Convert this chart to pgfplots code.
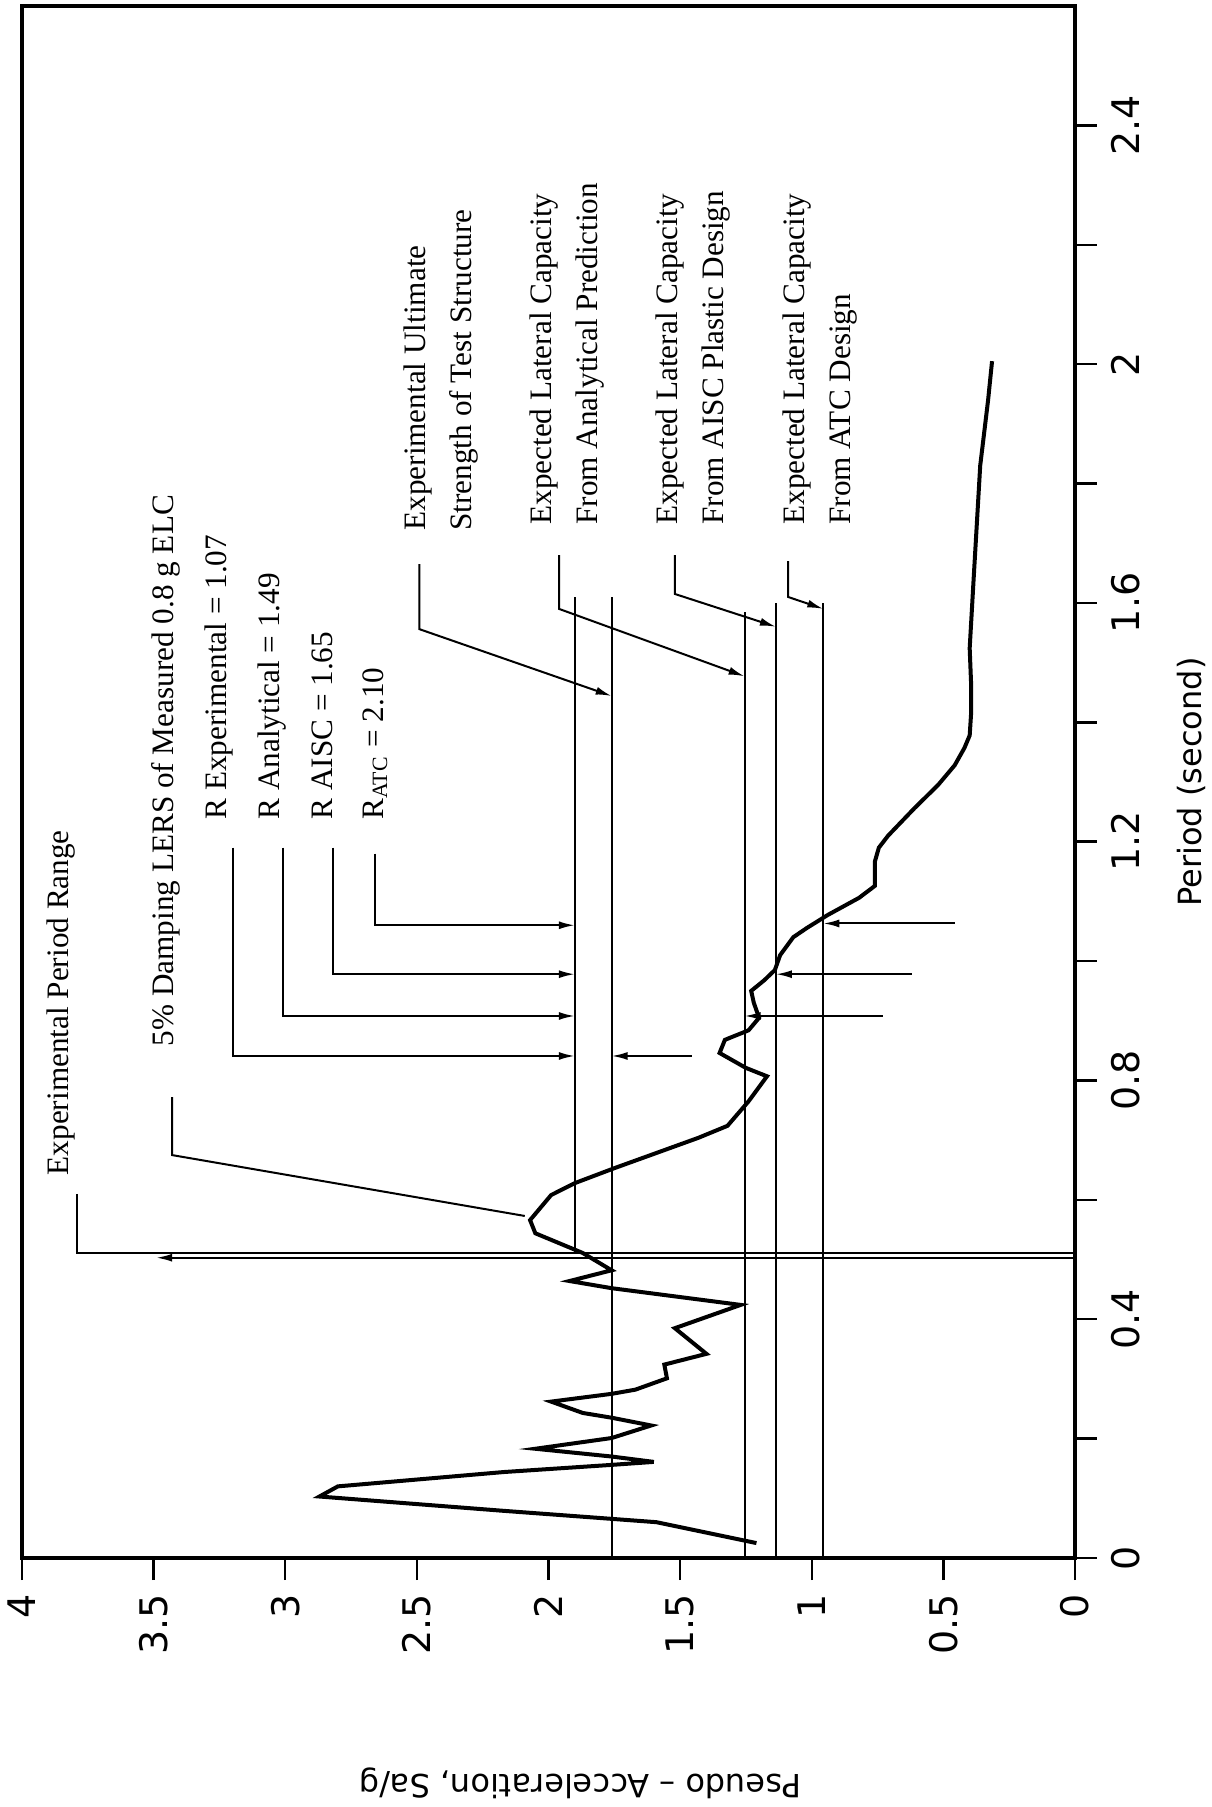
\documentclass[border=0pt]{standalone}
\usepackage{fontspec}
\setmainfont{Liberation Serif}
\newfontfamily\labelfont{DejaVu Sans}
\usepackage{pgfplots}
\pgfplotsset{compat=1.18}
\usetikzlibrary{arrows.meta}

\begin{document}
\begin{tikzpicture}[
  note/.style={rotate=90, anchor=west, inner sep=0pt, align=left,
    font=\fontsize{7.8}{11.5}\selectfont},
  thinline/.style={black, line width=0.5pt},
  lead/.style={black, line width=0.5pt, -{Latex[length=4pt,width=2pt]}},
]
\begin{axis}[
  scale only axis,
  width=263.25pt, height=388pt,
  xmin=0, xmax=4, ymin=0, ymax=2.6,
  x dir=reverse,
  axis line style={line width=0.9pt},
  tick align=outside,
  major tick length=5.5pt,
  tick style={black, line width=0.6pt},
  xtick pos=left,
  ytick pos=right,
  yticklabel pos=right,
  xtick={0,0.5,1,1.5,2,2.5,3,3.5,4},
  xticklabels={0,0.5,1,1.5,2,2.5,3,3.5,4},
  ytick={0,0.2,0.4,0.6,0.8,1.0,1.2,1.4,1.6,1.8,2.0,2.2,2.4},
  yticklabels={0,,0.4,,0.8,,1.2,,1.6,,2,,2.4},
  ticklabel style={font=\labelfont\fontsize{9.5}{10}\selectfont},
  xticklabel style={rotate=90, anchor=east},
  yticklabel style={rotate=90, anchor=north},
  clip=false,
]
% 5% damping spectrum (Sa/g, period)
\addplot[black, line width=1pt] coordinates {
(1.21,0.025) (1.59,0.060) (2.17,0.079) (2.87,0.103) (2.80,0.120)
(2.17,0.144) (1.76,0.156) (1.60,0.161) (1.76,0.170) (2.05,0.183)
(1.76,0.201) (1.61,0.222) (1.76,0.235) (1.87,0.243) (1.99,0.262)
(1.76,0.275) (1.67,0.282) (1.55,0.301) (1.56,0.324) (1.40,0.342)
(1.52,0.385) (1.27,0.424) (1.76,0.452) (1.92,0.464) (1.76,0.482)
(1.87,0.511) (2.05,0.544) (2.07,0.566) (1.99,0.608) (1.90,0.628)
(1.75,0.653) (1.43,0.704) (1.32,0.724) (1.24,0.765) (1.17,0.807)
(1.25,0.821) (1.35,0.846) (1.33,0.868) (1.24,0.884) (1.20,0.905)
(1.22,0.930) (1.23,0.950) (1.18,0.968) (1.14,0.985) (1.12,1.010)
(1.07,1.040) (1.02,1.055) (0.94,1.077) (0.82,1.106) (0.76,1.126)
(0.76,1.167) (0.745,1.190) (0.71,1.210) (0.61,1.256) (0.52,1.295)
(0.457,1.328) (0.42,1.357) (0.40,1.378) (0.395,1.412) (0.395,1.469)
(0.40,1.524) (0.385,1.64) (0.36,1.83) (0.33,1.94) (0.315,2.005)
};

% demand and capacity levels
\addplot[thinline] coordinates {(1.90,0.511) (1.90,1.61)};
\addplot[thinline] coordinates {(1.76,0) (1.76,1.61)};
\addplot[thinline] coordinates {(1.255,0) (1.255,1.585)};
\addplot[thinline] coordinates {(1.136,0) (1.136,1.60)};
\addplot[thinline] coordinates {(0.956,0) (0.956,1.60)};

% experimental period range
\addplot[thinline] coordinates {(3.79,0.61) (3.79,0.511) (0,0.511)};
\addplot[thinline, {Latex[length=4pt,width=2pt]}-] coordinates {(3.49,0.503) (0,0.503)};

% leaders
\addplot[thinline] coordinates {(3.43,0.772) (3.43,0.675) (2.09,0.573)};
\addplot[lead] coordinates {(3.20,1.19) (3.20,0.841) (1.90,0.841)};
\addplot[lead] coordinates {(1.455,0.841) (1.76,0.841)};
\addplot[lead] coordinates {(3.01,1.19) (3.01,0.908) (1.90,0.908)};
\addplot[lead] coordinates {(0.73,0.908) (1.255,0.908)};
\addplot[lead] coordinates {(2.82,1.19) (2.82,0.978) (1.90,0.978)};
\addplot[lead] coordinates {(0.62,0.978) (1.136,0.978)};
\addplot[lead] coordinates {(2.66,1.18) (2.66,1.06) (1.90,1.06)};
\addplot[lead] coordinates {(0.457,1.063) (0.956,1.063)};
\addplot[lead] coordinates {(2.49,1.665) (2.49,1.556) (1.76,1.444)};
\addplot[lead] coordinates {(1.96,1.68) (1.96,1.59) (1.255,1.477)};
\addplot[lead] coordinates {(1.52,1.68) (1.52,1.615) (1.136,1.56)};
\addplot[lead] coordinates {(1.09,1.67) (1.09,1.61) (0.956,1.59)};

\node[note] at (axis cs:3.85,0.64) {Experimental Period Range};
\node[note] at (axis cs:3.455,0.856) {5\% Damping LERS of Measured 0.8 g ELC};
\node[note] at (axis cs:3.25,1.236) {R Experimental = 1.07};
\node[note] at (axis cs:3.05,1.236) {R Analytical = 1.49};
\node[note] at (axis cs:2.86,1.236) {R AISC = 1.65};
\node[note] at (axis cs:2.66,1.236) {R\textsubscript{ATC} = 2.10};
\node[note] at (axis cs:2.41,1.72) {Experimental Ultimate\\Strength of Test Structure};
\node[note] at (axis cs:1.93,1.73) {Expected Lateral Capacity\\From Analytical Prediction};
\node[note] at (axis cs:1.45,1.73) {Expected Lateral Capacity\\From AISC Plastic Design};
\node[note] at (axis cs:0.97,1.73) {Expected Lateral Capacity\\From ATC Design};

\coordinate (BL) at (axis description cs:0,0);
\coordinate (TR) at (axis description cs:1,1);
\coordinate (YL) at (axis description cs:1,0.5);
\coordinate (XL) at (axis description cs:0.53,0);
\end{axis}
\node[rotate=90, font=\labelfont\fontsize{8}{9}\selectfont] at ([xshift=29pt]YL) {Period (second)};
\node[rotate=180, font=\labelfont\fontsize{8}{9}\selectfont] at ([yshift=-56.25pt]XL) {Pseudo – Acceleration, Sa/g};
\pgfresetboundingbox
\path[use as bounding box] ([shift={(-5.5pt,-62.25pt)}]BL) rectangle ([shift={(34.25pt,1.5pt)}]TR);
\end{tikzpicture}
\end{document}
